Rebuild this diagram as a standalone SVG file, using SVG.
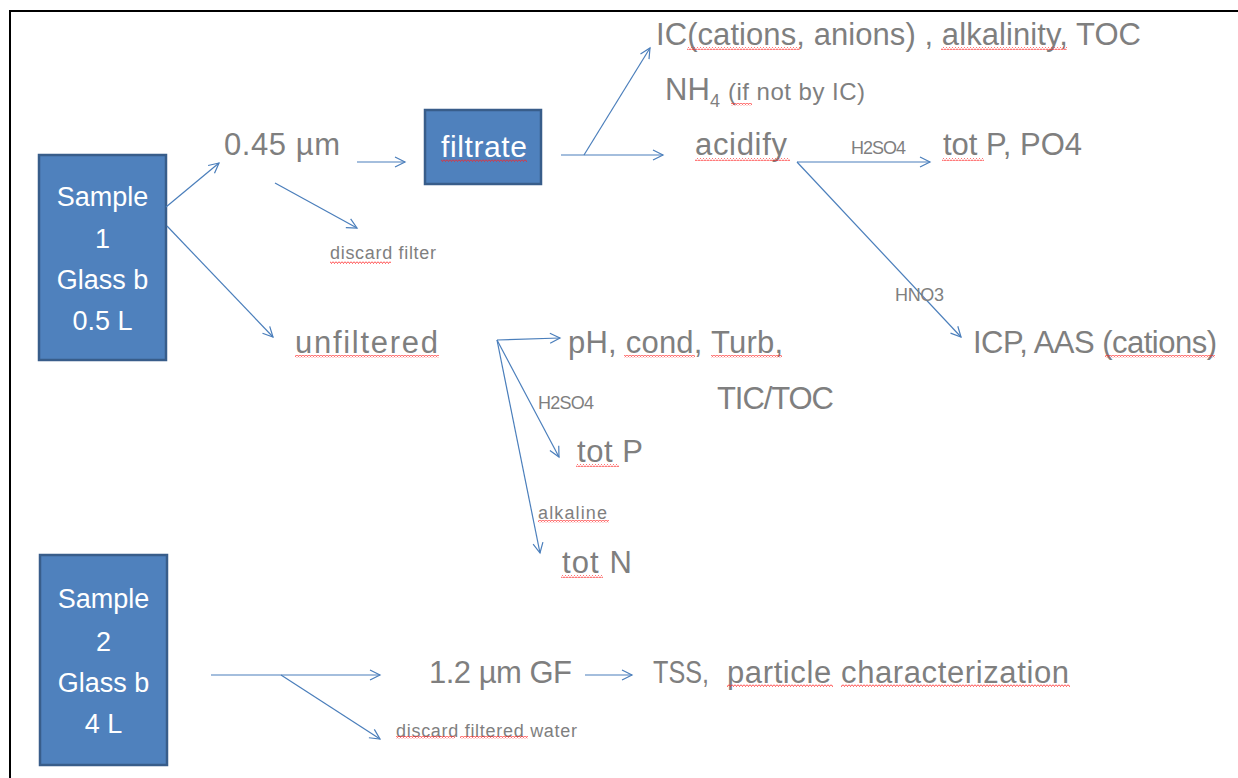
<svg xmlns="http://www.w3.org/2000/svg" width="1238" height="778" viewBox="0 0 1238 778">
<style>
.box{fill:#4F81BD;stroke:#385D8A;stroke-width:2.5}
.wt{font-family:"Liberation Sans",Arial,sans-serif;font-size:27px;fill:#ffffff;text-anchor:middle}
.t{font-family:"Liberation Sans",Arial,sans-serif;font-size:31px;fill:#7f7f7f}
.s{font-family:"Liberation Sans",Arial,sans-serif;font-size:18px;fill:#7f7f7f}
.c{fill:none;stroke:#4A7EBB;stroke-width:1.2;marker-end:url(#arr)}
.w{fill:url(#wavy)}
</style>
<defs>
<marker id="arr" markerUnits="userSpaceOnUse" markerWidth="14" markerHeight="14" refX="11" refY="6" orient="auto">
<path d="M1,1 L11,6 L1,11" fill="none" stroke="#4A7EBB" stroke-width="1.2"/>
</marker>
<pattern id="wavy" patternUnits="userSpaceOnUse" width="3" height="3">
<path d="M0,0.5 L1.5,2.5 L3,0.5" fill="none" stroke="#ff2020" stroke-width="0.8"/>
</pattern>
</defs>
<rect x="0" y="0" width="1238" height="778" fill="#ffffff"/>
<rect x="10" y="11" width="1400" height="900" fill="none" stroke="#000000" stroke-width="2"/>

<g id="sample1">
<rect class="box" x="39" y="155" width="127" height="205"/>
<text class="wt" x="102.5" y="206">Sample</text>
<text class="wt" x="102.5" y="248">1</text>
<text class="wt" x="102.5" y="289">Glass b</text>
<text class="wt" x="102.5" y="330">0.5 L</text>
</g>
<g id="sample2">
<rect class="box" x="40" y="555" width="127" height="210"/>
<text class="wt" x="103.5" y="608">Sample</text>
<text class="wt" x="103.5" y="651">2</text>
<text class="wt" x="103.5" y="692">Glass b</text>
<text class="wt" x="103.5" y="733">4 L</text>
</g>
<g id="filtrate">
<rect class="box" x="425" y="110" width="116" height="74"/>
<text class="wt" x="484" y="157" style="font-size:30px" textLength="86">filtrate</text>
</g>

<g id="connectors">
<path class="c" d="M166,207 L219,163"/>
<path class="c" d="M167,226 L273,337"/>
<path class="c" d="M357,162 L405,162"/>
<path class="c" d="M275,183 L357,228"/>
<path class="c" d="M561,155 L663,155"/>
<path class="c" d="M584,155 L650,48"/>
<path class="c" d="M797,162 L930,162"/>
<path class="c" d="M797,162 L961,337"/>
<path class="c" d="M497,340 L560,338"/>
<path class="c" d="M497,340 L559,457"/>
<path class="c" d="M497,340 L540,553"/>
<path class="c" d="M211,675 L380,675"/>
<path class="c" d="M281,675 L380,739"/>
<path class="c" d="M585,675 L632,675"/>
</g>

<g id="filter045"><text class="t" x="224" y="155" textLength="116">0.45 µm</text></g>
<g id="discard-filter"><text class="s" x="330" y="259" textLength="106">discard filter</text></g>
<g id="unfiltered"><text class="t" x="295" y="353" textLength="143">unfiltered</text></g>
<g id="ic"><text class="t" x="656" y="45" textLength="485">IC(cations, anions) , alkalinity, TOC</text></g>
<g id="nh4">
<text class="t" x="665" y="100">NH</text>
<text class="t" x="710" y="107" style="font-size:18px">4</text>
<text class="t" x="728" y="100" style="font-size:24px" textLength="137">(if not by IC)</text>
</g>
<g id="acidify"><text class="t" x="695" y="155" textLength="92">acidify</text></g>
<g id="h2so4-a"><text class="s" x="851" y="154" textLength="55">H2SO4</text></g>
<g id="totp-po4"><text class="t" x="943" y="155" textLength="139">tot P, PO4</text></g>
<g id="hno3"><text class="s" x="895" y="301" textLength="49">HNO3</text></g>
<g id="icp"><text class="t" x="973" y="353" textLength="244">ICP, AAS (cations)</text></g>
<g id="ph"><text class="t" x="568" y="353" textLength="215">pH, cond, Turb,</text></g>
<g id="tic"><text class="t" x="717" y="409" textLength="117">TIC/TOC</text></g>
<g id="h2so4-b"><text class="s" x="538" y="409" textLength="56">H2SO4</text></g>
<g id="totp"><text class="t" x="577" y="462" textLength="66">tot P</text></g>
<g id="alkaline"><text class="s" x="538" y="519" textLength="69">alkaline</text></g>
<g id="totn"><text class="t" x="562" y="573" textLength="70">tot N</text></g>
<g id="gf"><text class="t" x="429" y="683" textLength="143">1.2 µm GF</text></g>
<g id="tss">
<text class="t" x="653" y="683" textLength="56" lengthAdjust="spacingAndGlyphs">TSS,</text>
<text class="t" x="727" y="683" textLength="342">particle characterization</text>
</g>
<g id="discard-water"><text class="s" x="396" y="737" textLength="181">discard filtered water</text></g>

<g id="spellcheck">
<rect class="w" x="441" y="159" width="86" height="3"/>
<rect class="w" x="330" y="261" width="61" height="3"/>
<rect class="w" x="295" y="355" width="144" height="3"/>
<rect class="w" x="687" y="47" width="113" height="3"/>
<rect class="w" x="941" y="47" width="126" height="3"/>
<rect class="w" x="731" y="103" width="21" height="3"/>
<rect class="w" x="695" y="158" width="95" height="3"/>
<rect class="w" x="942" y="158" width="42" height="3"/>
<rect class="w" x="1105" y="355" width="110" height="3"/>
<rect class="w" x="624" y="355" width="71" height="3"/>
<rect class="w" x="711" y="355" width="71" height="3"/>
<rect class="w" x="576" y="464" width="43" height="3"/>
<rect class="w" x="538" y="520" width="71" height="3"/>
<rect class="w" x="561" y="575" width="42" height="3"/>
<rect class="w" x="396" y="736" width="59" height="3"/>
<rect class="w" x="460" y="736" width="68" height="3"/>
<rect class="w" x="727" y="684" width="106" height="3"/>
<rect class="w" x="841" y="684" width="229" height="3"/>
</g>
</svg>
